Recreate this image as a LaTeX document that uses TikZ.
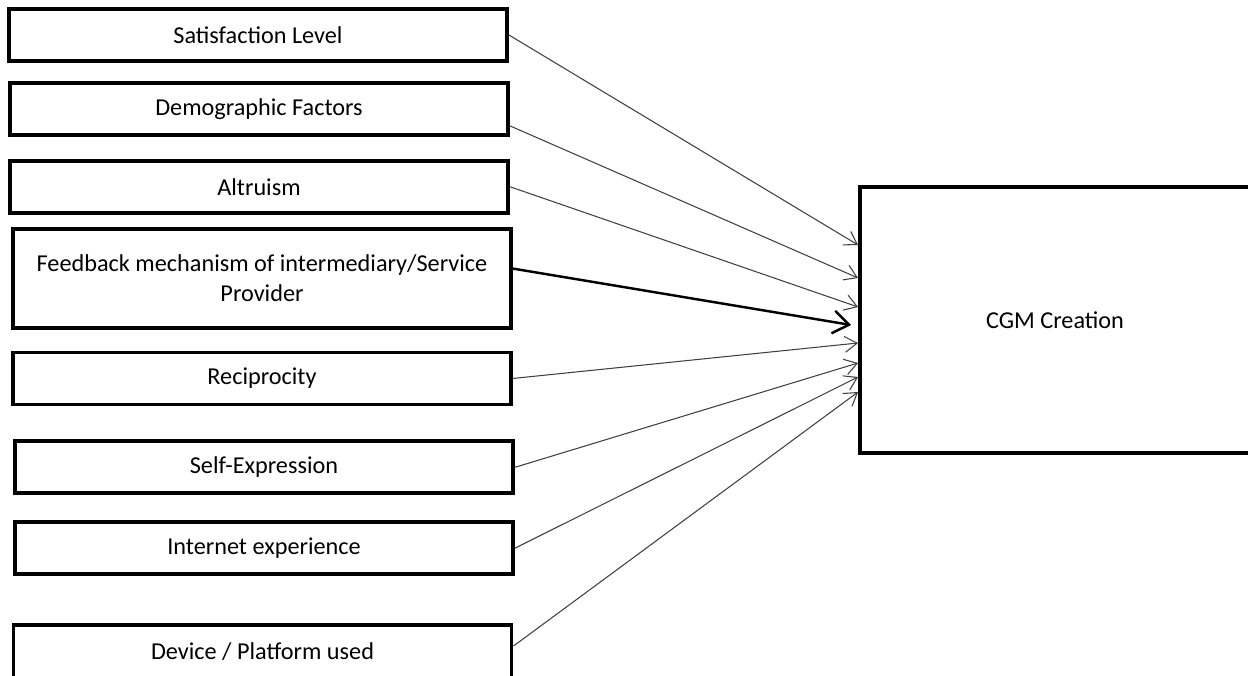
\documentclass[tikz,border=0pt]{standalone}
\usepackage{fontspec}
\setmainfont{Carlito}
\usetikzlibrary{positioning,arrows.meta}

\tikzset{
  factor/.style={draw, line width=2.2pt, minimum width=9.96cm, minimum height=1.04cm, align=center, inner sep=0pt},
  outcome/.style={draw, line width=2.2pt, minimum width=7.8cm, minimum height=5.32cm},
  link/.style={draw=black!75, line width=0.6pt, -{Straight Barb[length=7pt,width=9pt]}},
  mainlink/.style={draw=black, line width=1.4pt, -{Straight Barb[length=9pt,width=13pt]}},
}

\begin{document}
\begin{tikzpicture}[font=\fontsize{13.8}{17}\selectfont]
\useasboundingbox (0,0) rectangle (24.96,-13.52);
\node[factor] (sat) at (5.16,-0.7) {Satisfaction Level};
\node[factor, below=0.36cm of sat, xshift=0.02cm] (demo) {Demographic Factors};
\node[factor, below=0.44cm of demo] (alt) {Altruism};
\node[factor, below=0.24cm of alt, xshift=0.06cm, minimum height=1.98cm] (feed) {Feedback mechanism of intermediary/Service\\Provider};
\node[factor, below=0.42cm of feed] (recip) {Reciprocity};
\node[factor, below=0.66cm of recip, xshift=0.04cm] (self) {Self-Expression};
\node[factor, below=0.5cm of self] (inet) {Internet experience};
\node[factor, below=0.94cm of inet, xshift=-0.03cm, minimum height=1.08cm] (dev) {Device / Platform used};
\node[outcome] (cgm) at (21.1,-6.4) {CGM Creation};

\draw[link] (sat.east) -- ([yshift=1.5cm]cgm.west);
\draw[link] ([yshift=-0.34cm]demo.east) -- ([yshift=0.84cm]cgm.west);
\draw[link] (alt.east) -- ([yshift=0.26cm]cgm.west);
\draw[mainlink] ([yshift=0.19cm]feed.east) -- ([xshift=-0.14cm, yshift=-0.1cm]cgm.west);
\draw[link] (recip.east) -- ([yshift=-0.46cm]cgm.west);
\draw[link] (self.east) -- ([yshift=-0.86cm]cgm.west);
\draw[link] (inet.east) -- ([yshift=-1.14cm]cgm.west);
\draw[link] ([yshift=0.12cm]dev.east) -- ([yshift=-1.44cm]cgm.west);
\end{tikzpicture}
\end{document}
